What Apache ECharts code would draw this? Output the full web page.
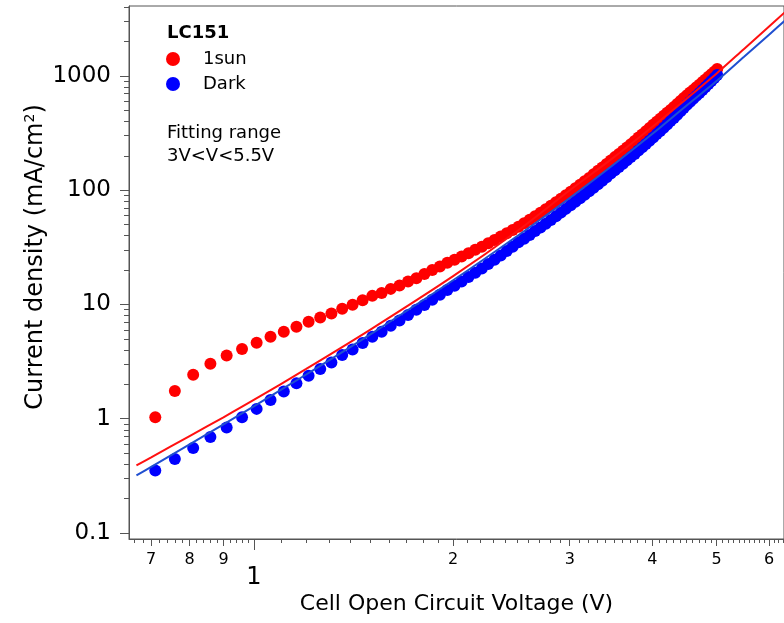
<!DOCTYPE html>
<html>
<head>
<meta charset="utf-8">
<script src="https://cdn.jsdelivr.net/npm/echarts@6/dist/echarts.min.js"></script>
<style>html,body{margin:0;padding:0;background:#fff;}#chart{width:784px;height:623px;}</style>
</head>
<body>
<div id="chart"></div>
<script>
// ---- data ----
var voltage = [0.71,0.76,0.81,0.86,0.91,0.96,1.01,1.06,1.11,1.16,1.21,1.26,1.31,1.36,1.41,1.46,1.51,1.56,1.61,1.66,1.71,1.76,1.81,1.86,1.91,1.96,
  2.01,2.06,2.11,2.16,2.21,2.26,2.31,2.36,2.41,2.46,2.51,2.56,2.61,2.66,2.71,2.76,2.81,2.86,2.91,2.96,
  3.01,3.06,3.11,3.16,3.21,3.26,3.31,3.36,3.41,3.46,3.51,3.56,3.61,3.66,3.71,3.76,3.81,3.86,3.91,3.96,
  4.01,4.06,4.11,4.16,4.21,4.26,4.31,4.36,4.41,4.46,4.51,4.56,4.61,4.66,4.71,4.76,4.81,4.86,4.91,4.96,5.01];
var sunJ = [1.03,1.75,2.43,3.03,3.58,4.07,4.63,5.22,5.77,6.38,7.06,7.7,8.35,9.18,9.95,10.9,11.9,12.6,13.7,14.7,15.9,17.0,18.5,20.0,21.5,23.2,
  24.6,26.3,28.1,30.1,32.1,34.4,36.7,39.3,42.0,44.9,48.0,51.5,55.2,59.3,63.6,68.2,73.2,78.5,84.3,90.4,
  97,104,112,120,128,138,148,158,170,182,195,208,222,237,253,270,289,308,329,351,
  375,398,423,449,476,505,536,569,604,641,680,718,756,797,840,885,933,983,1036,1092,1150];
var darkJ = [0.353,0.444,0.554,0.692,0.84,1.03,1.22,1.46,1.73,2.04,2.38,2.72,3.11,3.61,4.04,4.60,5.22,5.77,6.52,7.25,8.08,9.0,9.89,11.0,12.2,13.4,
  14.6,15.9,17.4,19.0,20.7,22.6,24.7,26.9,29.4,32.1,35.0,37.7,40.6,43.9,47.2,50.9,54.8,59.2,63.7,68.7,
  74.0,79.4,85.2,91.4,98.2,105,113,121,130,140,150,160,171,183,195,208,223,238,254,271,
  290,310,330,353,377,403,430,459,491,524,560,594,631,670,711,756,803,853,906,962,1020];
var fitV = [0.665,0.7,0.8,0.9,1.0,1.2,1.5,2.0,2.5,3.0,3.5,4.0,4.5,5.0,5.5,6.0,6.4];
var fitSun = [0.39,0.459,0.705,1.03,1.46,2.73,6.03,17.7,44,100,195,360,630,1052,1727,2716,3804];
var fitDark = [0.319,0.379,0.597,0.893,1.285,2.44,5.48,16.3,39.8,85.6,169,312,550,903,1472,2301,3206];

var xMajorTicks = [0.7,0.8,0.9,2,3,4,5,6];
var xMinorTicks = [0.66,0.68,0.72,0.74,0.76,0.78,0.82,0.84,0.86,0.88,0.92,0.94,0.96,0.98,
  1.1,1.2,1.3,1.4,1.5,1.6,1.7,1.8,1.9,2.1,2.2,2.3,2.4,2.5,2.6,2.7,2.8,2.9,
  3.1,3.2,3.3,3.4,3.5,3.6,3.7,3.8,3.9,4.1,4.2,4.3,4.4,4.5,4.6,4.7,4.8,4.9,
  5.1,5.2,5.3,5.4,5.5,5.6,5.7,5.8,5.9,6.1,6.2,6.3];
var yMajorTicks = [0.1,1,10,100,1000];
var yMinorTicks = [0.2,0.3,0.4,0.5,0.6,0.7,0.8,0.9,2,3,4,5,6,7,8,9,20,30,40,50,60,70,80,90,
  200,300,400,500,600,700,800,900,2000,3000,4000];

var zip = function(a, b){ return a.map(function(v,i){ return [v, b[i]]; }); };

var FONT = 'DejaVu Sans';
var AXC = '#555';
var X0 = 0.648, X1 = 6.32, Y0 = 0.0886, Y1 = 4100;

function xAxisBase(extra){
  var o = {type:'log', logBase:10, min:X0, max:X1, gridIndex:0, position:'bottom',
    splitLine:{show:false}, minorTick:{show:false}, axisLine:{show:false},
    axisTick:{show:false}, axisLabel:{show:false}};
  for (var k in extra) o[k]=extra[k];
  return o;
}
function yAxisBase(extra){
  var o = {type:'log', logBase:10, min:Y0, max:Y1, gridIndex:0, position:'left',
    splitLine:{show:false}, minorTick:{show:false}, axisLine:{show:false},
    axisTick:{show:false}, axisLabel:{show:false}};
  for (var k in extra) o[k]=extra[k];
  return o;
}

var chart = echarts.init(document.getElementById('chart'), null, {renderer:'canvas'});
chart.setOption({
  animation:false,
  backgroundColor:'#fff',
  grid:{left:129, top:6, width:659, height:533, show:true, borderColor:AXC, borderWidth:1, containLabel:false},
  xAxis:[
    xAxisBase({axisLine:{show:true, onZero:false, lineStyle:{color:AXC,width:1}},
      axisTick:{show:true, inside:false, length:4, customValues:xMinorTicks, lineStyle:{color:AXC}},
      name:'Cell Open Circuit Voltage (V)', nameLocation:'middle', nameGap:54,
      nameTextStyle:{fontFamily:FONT, fontSize:22, color:'#000'}}),
    xAxisBase({axisTick:{show:true, length:7, customValues:xMajorTicks, lineStyle:{color:AXC}},
      axisLabel:{show:true, customValues:xMajorTicks, margin:13, fontFamily:FONT, fontSize:16, color:'#000',
        formatter:function(v){ var r=Math.round(v*10)/10; return r<1 ? String(Math.round(r*10)) : String(Math.round(r)); }}}),
    xAxisBase({axisTick:{show:true, length:11, customValues:[1], lineStyle:{color:AXC}},
      axisLabel:{show:true, customValues:[1], margin:27, fontFamily:FONT, fontSize:24, color:'#000',
        formatter:function(){ return '1'; }}})
  ],
  yAxis:[
    yAxisBase({axisLine:{show:true, onZero:false, lineStyle:{color:AXC,width:1}},
      axisTick:{show:true, length:9, customValues:yMajorTicks, lineStyle:{color:AXC}},
      axisLabel:{show:true, customValues:yMajorTicks, margin:18, fontFamily:FONT, fontSize:23, color:'#000',
        formatter:function(v){ if (v<0.5) return '0.1'; return String(Math.round(v)); }}}),
    yAxisBase({axisTick:{show:true, length:5, customValues:yMinorTicks, lineStyle:{color:AXC}}})
  ],
  graphic:[
    {type:'text', x:36, y:257, rotation:Math.PI/2, style:{
      text:'{a|Current density (mA/cm}{s|2}{a|)}', align:'center', verticalAlign:'middle',
      rich:{a:{fontFamily:FONT, fontSize:24, fill:'#000'}, s:{fontFamily:FONT, fontSize:14, fill:'#000', verticalAlign:'top', padding:[0,0,11,0]}}}},
    {type:'text', left:167, top:24, style:{text:'LC151', fontFamily:FONT, fontSize:18, fontWeight:'bold', fill:'#000'}},
    {type:'text', left:167, top:122, style:{text:'Fitting range\n3V<V<5.5V', fontFamily:FONT, fontSize:18, lineHeight:23, fill:'#000'}}
  ],
  legend:{show:true, left:161, top:45, orient:'vertical', itemGap:7, itemWidth:14, itemHeight:14,
    icon:'circle', textStyle:{fontFamily:FONT, fontSize:18, color:'#000', padding:[0,0,0,18]},
    data:['1sun','Dark']},
  series:[
    {name:'1sun', type:'scatter', xAxisIndex:0, yAxisIndex:0, data:zip(voltage, sunJ), symbol:'circle', symbolSize:12,
      itemStyle:{color:'#ff0000', opacity:1}, z:2},
    {name:'Dark', type:'scatter', xAxisIndex:0, yAxisIndex:0, data:zip(voltage, darkJ), symbol:'circle', symbolSize:12,
      itemStyle:{color:'#0000ff', opacity:1}, z:3},
    {name:'fitSun', type:'line', xAxisIndex:0, yAxisIndex:0, data:zip(fitV, fitSun), smooth:0.3, showSymbol:false,
      lineStyle:{color:'#ff1010', width:2}, z:4},
    {name:'fitDark', type:'line', xAxisIndex:0, yAxisIndex:0, data:zip(fitV, fitDark), smooth:0.3, showSymbol:false,
      lineStyle:{color:'#1f4fd0', width:2}, z:5}
  ]
});
</script>
</body>
</html>
